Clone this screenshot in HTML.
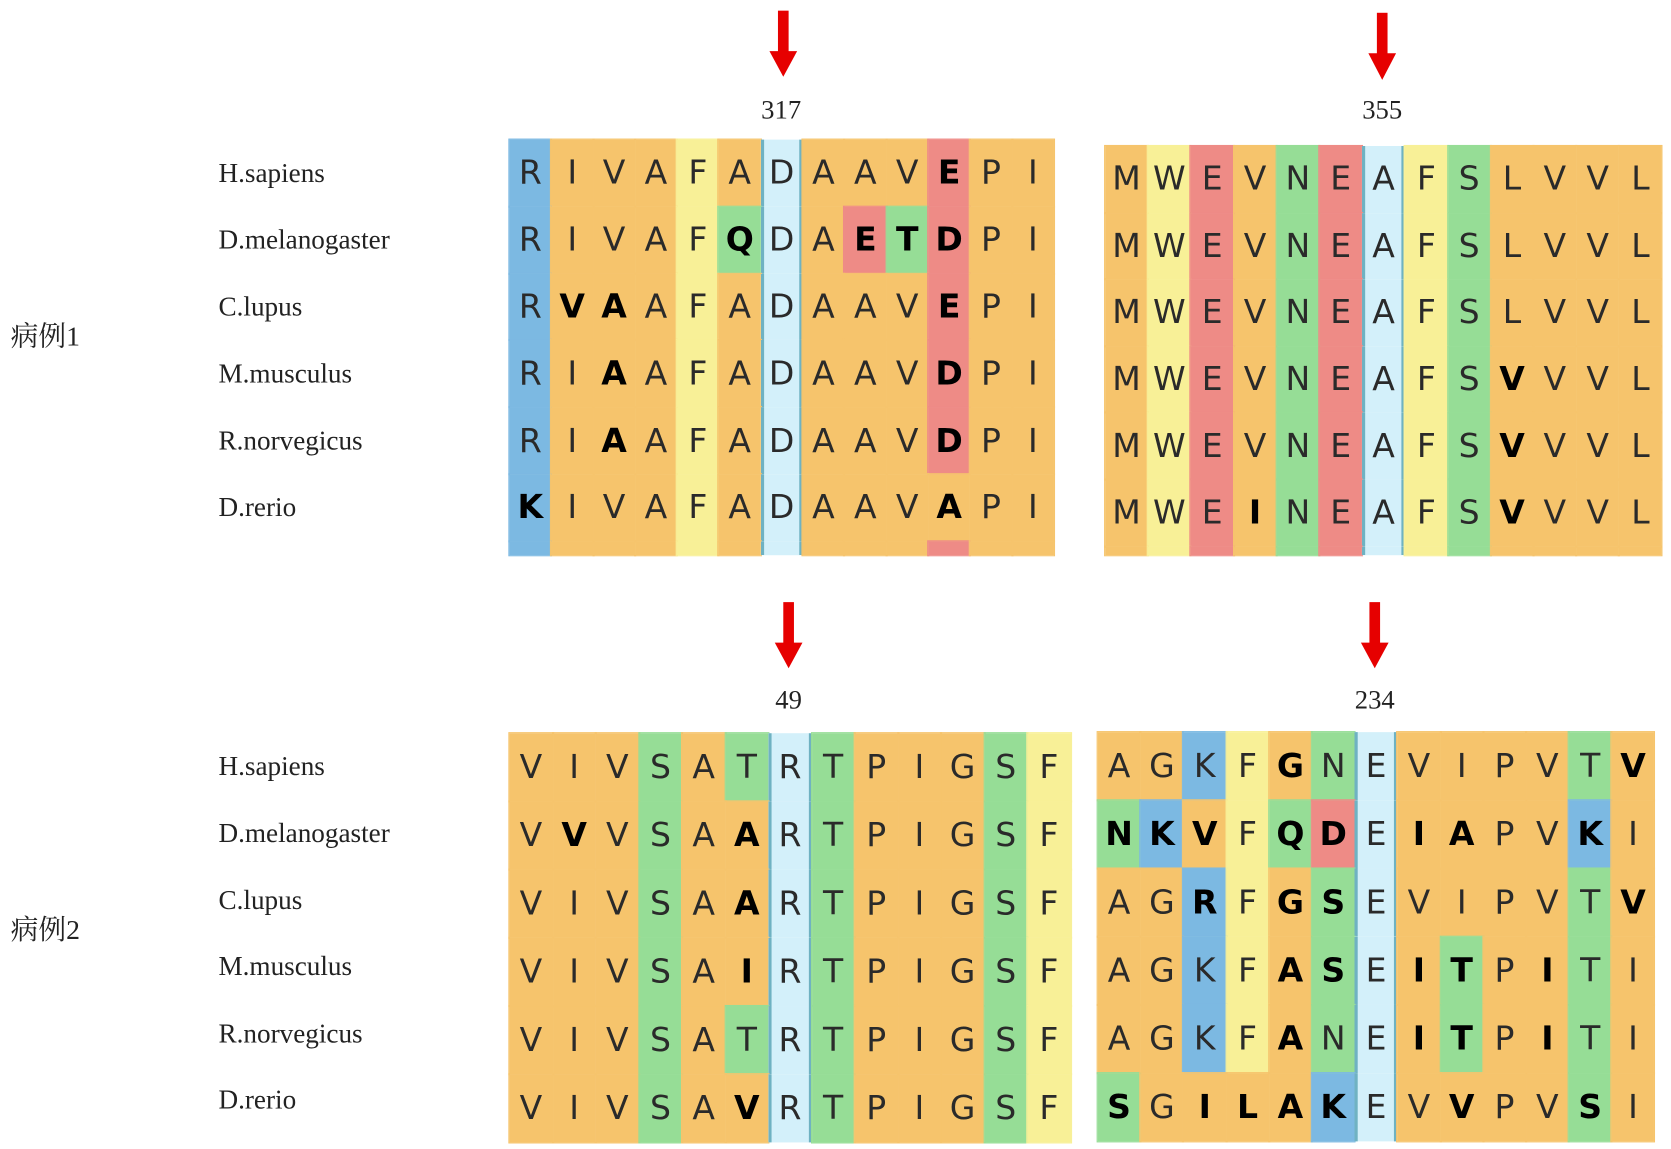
<!DOCTYPE html>
<html><head><meta charset="utf-8"><style>
html,body{margin:0;padding:0;background:#fff;width:1671px;height:1148px;overflow:hidden}
#w{position:absolute;left:0;top:0;width:1568px;height:1078px;transform:scale(1.0657);transform-origin:0 0}
.lab{position:absolute;font-family:"Liberation Serif",serif;font-size:25.5px;color:#222;line-height:1}
.cn{position:absolute;font-family:"Liberation Serif","Noto Serif CJK SC",serif;font-size:26px;color:#222;line-height:1}
.num{position:absolute;font-family:"Liberation Serif",serif;font-size:25px;color:#222;transform:translateX(-50%);line-height:1}
.blk{position:absolute;display:flex;flex-direction:column}
.row{display:flex}
.row span{display:flex;align-items:center;justify-content:center;font-family:"DejaVu Sans","Liberation Sans",sans-serif;font-size:31px;color:#2a2a2a;box-sizing:border-box}
.o{background:#f6c46c;outline:0.6px solid #f6c46c}.b{background:#7cb9e2;outline:0.6px solid #7cb9e2}.y{background:#f8f097;outline:0.6px solid #f8f097}.g{background:#96dd96;outline:0.6px solid #96dd96}.r{background:#ee8b86;outline:0.6px solid #ee8b86}
.c{background:#d3f0fa;box-shadow:inset 3px 0 0 #6fb2c2,inset -3px 0 0 #6fb2c2}
.k{font-weight:bold;color:#000!important}
#b1 span{width:39.3px;height:62.8px}
#b2 span{width:40.2px;height:62.6px}
#b3 span{width:40.5px;height:64px}
#b4 span{width:40.2px;height:64px}
#b1 .s span{height:13px}
#b2 .s span{height:8px}
</style></head><body><div id="w">
<svg style="position:absolute;left:0;top:0" width="1568" height="700">
<g fill="#e60000">
<rect x="730" y="10" width="10" height="40"/><polygon points="722,48 748,48 735,72"/>
<rect x="1292" y="12" width="10" height="40"/><polygon points="1284,50 1310,50 1297,75"/>
<rect x="735" y="565" width="10" height="40"/><polygon points="727,603 753,603 740,627"/>
<rect x="1285" y="565" width="10" height="40"/><polygon points="1277,603 1303,603 1290,627"/>
</g></svg>
<div class="num" style="left:733px;top:91px">317</div>
<div class="num" style="left:1297px;top:91px">355</div>
<div class="num" style="left:740px;top:645px">49</div>
<div class="num" style="left:1290px;top:645px">234</div>

<div class="lab" style="left:205px;top:150px">H.sapiens</div>
<div class="lab" style="left:205px;top:212px">D.melanogaster</div>
<div class="lab" style="left:205px;top:275px">C.lupus</div>
<div class="lab" style="left:205px;top:338px">M.musculus</div>
<div class="lab" style="left:205px;top:401px">R.norvegicus</div>
<div class="lab" style="left:205px;top:463px">D.rerio</div>
<div class="cn" style="left:10px;top:303px">病例1</div>

<div class="lab" style="left:205px;top:706px">H.sapiens</div>
<div class="lab" style="left:205px;top:769px">D.melanogaster</div>
<div class="lab" style="left:205px;top:832px">C.lupus</div>
<div class="lab" style="left:205px;top:894px">M.musculus</div>
<div class="lab" style="left:205px;top:957px">R.norvegicus</div>
<div class="lab" style="left:205px;top:1019px">D.rerio</div>
<div class="cn" style="left:10px;top:860px">病例2</div>

<div class="blk" id="b1" style="left:478px;top:131px">
<div class="row"><span class="b">R</span><span class="o">I</span><span class="o">V</span><span class="o">A</span><span class="y">F</span><span class="o">A</span><span class="c">D</span><span class="o">A</span><span class="o">A</span><span class="o">V</span><span class="r k">E</span><span class="o">P</span><span class="o">I</span></div>
<div class="row"><span class="b">R</span><span class="o">I</span><span class="o">V</span><span class="o">A</span><span class="y">F</span><span class="g k">Q</span><span class="c">D</span><span class="o">A</span><span class="r k">E</span><span class="g k">T</span><span class="r k">D</span><span class="o">P</span><span class="o">I</span></div>
<div class="row"><span class="b">R</span><span class="o k">V</span><span class="o k">A</span><span class="o">A</span><span class="y">F</span><span class="o">A</span><span class="c">D</span><span class="o">A</span><span class="o">A</span><span class="o">V</span><span class="r k">E</span><span class="o">P</span><span class="o">I</span></div>
<div class="row"><span class="b">R</span><span class="o">I</span><span class="o k">A</span><span class="o">A</span><span class="y">F</span><span class="o">A</span><span class="c">D</span><span class="o">A</span><span class="o">A</span><span class="o">V</span><span class="r k">D</span><span class="o">P</span><span class="o">I</span></div>
<div class="row"><span class="b">R</span><span class="o">I</span><span class="o k">A</span><span class="o">A</span><span class="y">F</span><span class="o">A</span><span class="c">D</span><span class="o">A</span><span class="o">A</span><span class="o">V</span><span class="r k">D</span><span class="o">P</span><span class="o">I</span></div>
<div class="row"><span class="b k">K</span><span class="o">I</span><span class="o">V</span><span class="o">A</span><span class="y">F</span><span class="o">A</span><span class="c">D</span><span class="o">A</span><span class="o">A</span><span class="o">V</span><span class="o k">A</span><span class="o">P</span><span class="o">I</span></div>
<div class="row s"><span class="b"></span><span class="o"></span><span class="o"></span><span class="o"></span><span class="y"></span><span class="o"></span><span class="c"></span><span class="o"></span><span class="o"></span><span class="o"></span><span class="r"></span><span class="o"></span><span class="o"></span></div>
</div>

<div class="blk" id="b2" style="left:1037px;top:137px">
<div class="row"><span class="o">M</span><span class="y">W</span><span class="r">E</span><span class="o">V</span><span class="g">N</span><span class="r">E</span><span class="c">A</span><span class="y">F</span><span class="g">S</span><span class="o">L</span><span class="o">V</span><span class="o">V</span><span class="o">L</span></div>
<div class="row"><span class="o">M</span><span class="y">W</span><span class="r">E</span><span class="o">V</span><span class="g">N</span><span class="r">E</span><span class="c">A</span><span class="y">F</span><span class="g">S</span><span class="o">L</span><span class="o">V</span><span class="o">V</span><span class="o">L</span></div>
<div class="row"><span class="o">M</span><span class="y">W</span><span class="r">E</span><span class="o">V</span><span class="g">N</span><span class="r">E</span><span class="c">A</span><span class="y">F</span><span class="g">S</span><span class="o">L</span><span class="o">V</span><span class="o">V</span><span class="o">L</span></div>
<div class="row"><span class="o">M</span><span class="y">W</span><span class="r">E</span><span class="o">V</span><span class="g">N</span><span class="r">E</span><span class="c">A</span><span class="y">F</span><span class="g">S</span><span class="o k">V</span><span class="o">V</span><span class="o">V</span><span class="o">L</span></div>
<div class="row"><span class="o">M</span><span class="y">W</span><span class="r">E</span><span class="o">V</span><span class="g">N</span><span class="r">E</span><span class="c">A</span><span class="y">F</span><span class="g">S</span><span class="o k">V</span><span class="o">V</span><span class="o">V</span><span class="o">L</span></div>
<div class="row"><span class="o">M</span><span class="y">W</span><span class="r">E</span><span class="o k">I</span><span class="g">N</span><span class="r">E</span><span class="c">A</span><span class="y">F</span><span class="g">S</span><span class="o k">V</span><span class="o">V</span><span class="o">V</span><span class="o">L</span></div>
<div class="row s"><span class="o"></span><span class="y"></span><span class="r"></span><span class="o"></span><span class="g"></span><span class="r"></span><span class="c"></span><span class="y"></span><span class="g"></span><span class="o"></span><span class="o"></span><span class="o"></span><span class="o"></span></div>
</div>

<div class="blk" id="b3" style="left:478px;top:688px">
<div class="row"><span class="o">V</span><span class="o">I</span><span class="o">V</span><span class="g">S</span><span class="o">A</span><span class="g">T</span><span class="c">R</span><span class="g">T</span><span class="o">P</span><span class="o">I</span><span class="o">G</span><span class="g">S</span><span class="y">F</span></div>
<div class="row"><span class="o">V</span><span class="o k">V</span><span class="o">V</span><span class="g">S</span><span class="o">A</span><span class="o k">A</span><span class="c">R</span><span class="g">T</span><span class="o">P</span><span class="o">I</span><span class="o">G</span><span class="g">S</span><span class="y">F</span></div>
<div class="row"><span class="o">V</span><span class="o">I</span><span class="o">V</span><span class="g">S</span><span class="o">A</span><span class="o k">A</span><span class="c">R</span><span class="g">T</span><span class="o">P</span><span class="o">I</span><span class="o">G</span><span class="g">S</span><span class="y">F</span></div>
<div class="row"><span class="o">V</span><span class="o">I</span><span class="o">V</span><span class="g">S</span><span class="o">A</span><span class="o k">I</span><span class="c">R</span><span class="g">T</span><span class="o">P</span><span class="o">I</span><span class="o">G</span><span class="g">S</span><span class="y">F</span></div>
<div class="row"><span class="o">V</span><span class="o">I</span><span class="o">V</span><span class="g">S</span><span class="o">A</span><span class="g">T</span><span class="c">R</span><span class="g">T</span><span class="o">P</span><span class="o">I</span><span class="o">G</span><span class="g">S</span><span class="y">F</span></div>
<div class="row"><span class="o">V</span><span class="o">I</span><span class="o">V</span><span class="g">S</span><span class="o">A</span><span class="o k">V</span><span class="c">R</span><span class="g">T</span><span class="o">P</span><span class="o">I</span><span class="o">G</span><span class="g">S</span><span class="y">F</span></div>
</div>

<div class="blk" id="b4" style="left:1030px;top:687px">
<div class="row"><span class="o">A</span><span class="o">G</span><span class="b">K</span><span class="y">F</span><span class="o k">G</span><span class="g">N</span><span class="c">E</span><span class="o">V</span><span class="o">I</span><span class="o">P</span><span class="o">V</span><span class="g">T</span><span class="o k">V</span></div>
<div class="row"><span class="g k">N</span><span class="b k">K</span><span class="o k">V</span><span class="y">F</span><span class="g k">Q</span><span class="r k">D</span><span class="c">E</span><span class="o k">I</span><span class="o k">A</span><span class="o">P</span><span class="o">V</span><span class="b k">K</span><span class="o">I</span></div>
<div class="row"><span class="o">A</span><span class="o">G</span><span class="b k">R</span><span class="y">F</span><span class="o k">G</span><span class="g k">S</span><span class="c">E</span><span class="o">V</span><span class="o">I</span><span class="o">P</span><span class="o">V</span><span class="g">T</span><span class="o k">V</span></div>
<div class="row"><span class="o">A</span><span class="o">G</span><span class="b">K</span><span class="y">F</span><span class="o k">A</span><span class="g k">S</span><span class="c">E</span><span class="o k">I</span><span class="g k">T</span><span class="o">P</span><span class="o k">I</span><span class="g">T</span><span class="o">I</span></div>
<div class="row"><span class="o">A</span><span class="o">G</span><span class="b">K</span><span class="y">F</span><span class="o k">A</span><span class="g">N</span><span class="c">E</span><span class="o k">I</span><span class="g k">T</span><span class="o">P</span><span class="o k">I</span><span class="g">T</span><span class="o">I</span></div>
<div class="row"><span class="g k">S</span><span class="o">G</span><span class="o k">I</span><span class="o k">L</span><span class="o k">A</span><span class="b k">K</span><span class="c">E</span><span class="o">V</span><span class="o k">V</span><span class="o">P</span><span class="o">V</span><span class="g k">S</span><span class="o">I</span></div>
</div>
</div></body></html>
